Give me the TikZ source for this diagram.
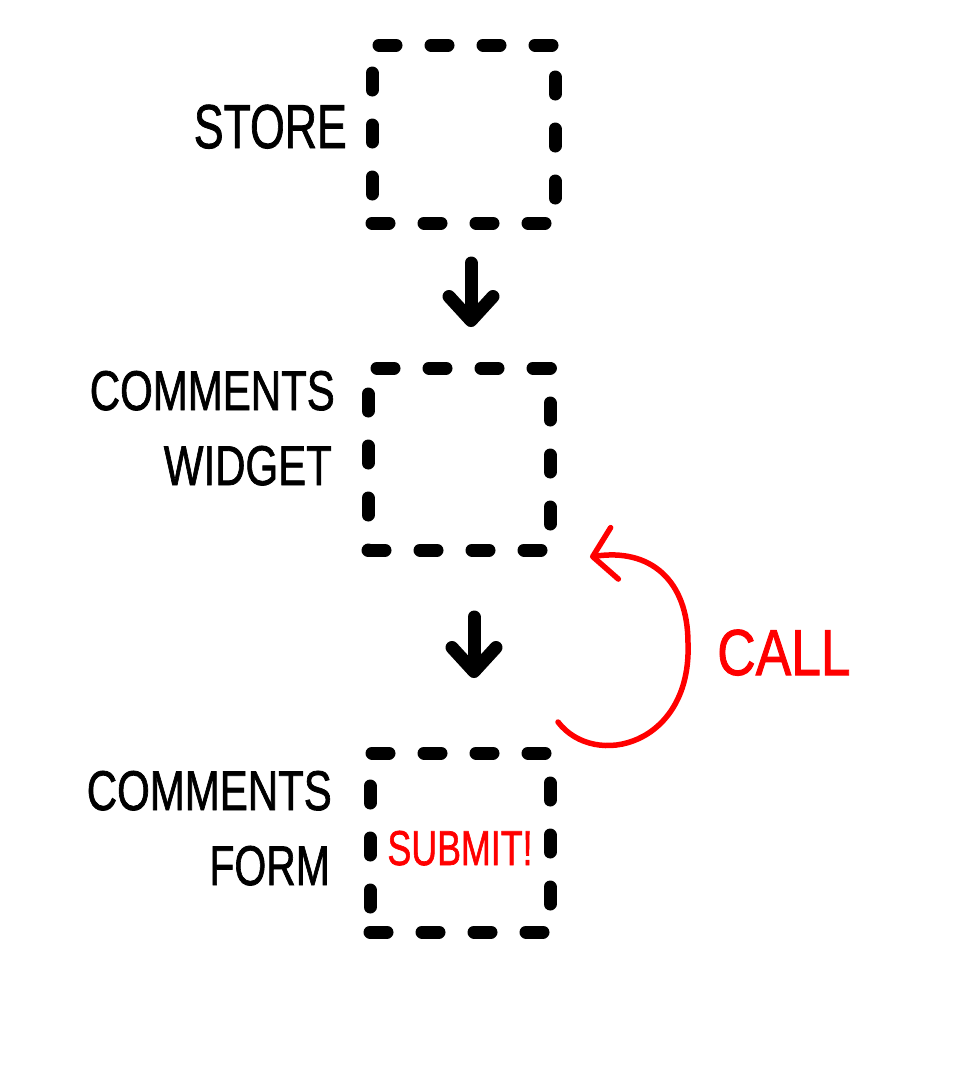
\documentclass[tikz,border=0pt]{standalone}
\usepackage{fontspec}
\usepackage{graphicx}
\setmainfont{Liberation Sans}
\newfontfamily\hand{Liberation Sans}[FakeBold=1.5]
\usetikzlibrary{arrows.meta}
\begin{document}
\begin{tikzpicture}[x=1pt,y=-1pt,
  dbox/.style={draw=black, line width=13pt, line cap=round, line join=round,
    dash pattern=on 17pt off 35pt, inner sep=0pt, outer sep=0pt},
  lbl/.style={anchor=base east, inner sep=0pt, font=\hand\fontsize{56}{60}\selectfont},
  flow/.style={draw=black, line width=13pt, line cap=round, line join=round,
    -{Straight Barb[length=24pt,width=44pt,round]}},
  callarrow/.style={draw=red, line width=5.5pt, line cap=round, line join=round,
    -{Straight Barb[length=22pt,width=52pt,round]}},
  redtxt/.style={text=red, inner sep=0pt}]
\useasboundingbox (0,0) rectangle (960,1080);
\fill[white] (0,0) rectangle (960,1080);

% boxes
\node[dbox, minimum width=183pt, minimum height=178pt] (b1) at (463.5,134) {};
\node[dbox, minimum width=182pt, minimum height=182pt] (b2) at (459,459) {};
\node[dbox, minimum width=180pt, minimum height=179pt] (b3) at (460,842.5) {};

% labels
\node[lbl, font=\hand\fontsize{62}{66}\selectfont] (lstore) at (347,148) {\scalebox{0.72}[1]{STORE}};
\node[lbl] (lcw1) at (335,410) {\scalebox{0.75}[1]{COMMENTS}};
\node[lbl] (lcw2) at (332,485) {\scalebox{0.75}[1]{WIDGET}};
\node[lbl] (lcf1) at (332,810) {\scalebox{0.75}[1]{COMMENTS}};
\node[lbl] (lcf2) at (330,885) {\scalebox{0.73}[1]{FORM}};

\node[redtxt, anchor=base, font=\hand\fontsize{49}{52}\selectfont] (submit) at (460,865) {\scalebox{0.73}[1]{SUBMIT!}};
\node[redtxt, anchor=base west, font=\hand\fontsize{65}{68}\selectfont] (call) at (717,675) {\scalebox{0.82}[1]{CALL}};

% flow arrows
\draw[flow] ([xshift=7.5pt,yshift=-40pt]b1.south) -- ([xshift=12pt,yshift=41pt]b2.north);
\draw[flow] ([xshift=15pt,yshift=-67pt]b2.south) -- ([xshift=14pt,yshift=75pt]b3.north);

% call arc
\coordinate (cs) at ([xshift=8pt,yshift=31pt]b3.north east);
\coordinate (ce) at ([xshift=40pt,yshift=-7pt]b2.south east);
\draw[callarrow] (cs) .. controls (595,770) and (692,745) .. (688,643)
  .. controls (688,580) and (650,548) .. (ce);
\end{tikzpicture}
\end{document}
